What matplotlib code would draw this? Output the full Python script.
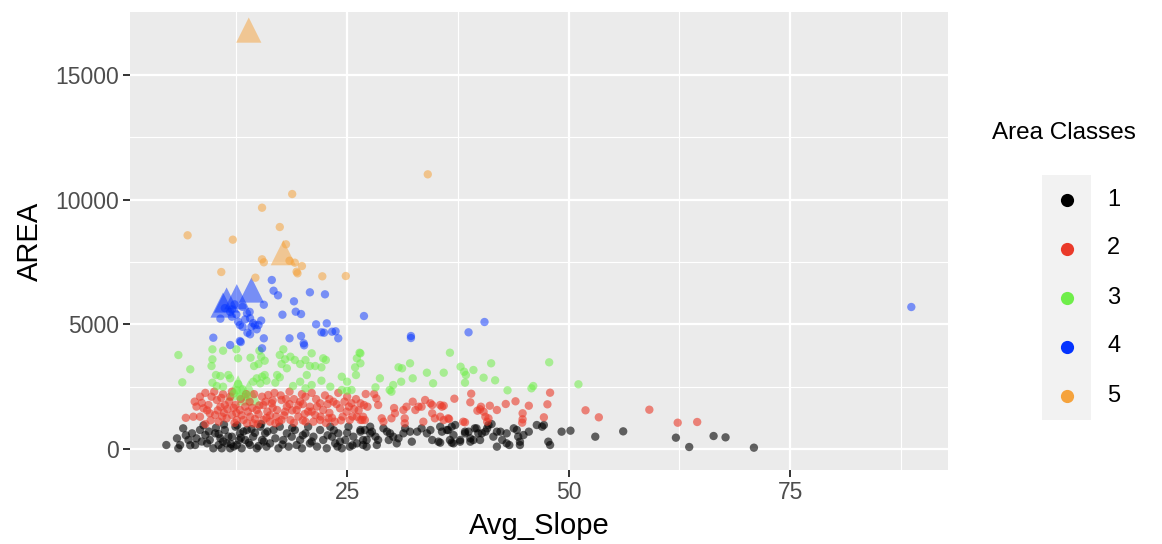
import matplotlib
matplotlib.use("Agg")
import matplotlib.pyplot as plt
from matplotlib.lines import Line2D

plt.rcParams['font.family'] = ['Liberation Sans', 'DejaVu Sans']

# === Данные: (Avg_Slope, AREA) по классам площади ===
class_labels = ["1", "2", "3", "4", "5"]
class_colors = ["#000000", "#EA3A2A", "#6FEE4A", "#0433FF", "#F5A33D"]
class_alpha = [0.6, 0.6, 0.55, 0.5, 0.55]

points_c1 = [
    (35.5, 894), (35.7, 695), (36.25, 762), (36.8, 894), (37.2, 962), (36.6, 361), (37.0, 561),
    (35.5, 254), (36.8, 254), (37.75, 294), (38.3, 695), (38.9, 428), (39.25, 361), (39.6, 829),
    (39.8, 628), (40.0, 361), (40.6, 695), (40.8, 829), (41.3, 1000), (41.5, 494), (41.9, 94),
    (42.3, 695), (42.5, 361), (43.0, 628), (43.3, 160), (43.8, 829), (44.15, 762), (44.3, 494),
    (44.5, 160), (44.9, 561), (45.5, 695), (46.4, 962), (47.0, 894), (47.2, 962), (47.7, 294),
    (47.9, 160), (49.2, 695), (50.2, 735), (53.0, 494), (56.15, 708), (62.1, 454), (63.6, 80),
    (66.35, 521), (67.7, 468), (70.9, 53),
    (26.5, 695), (27.0, 762), (27.6, 894), (27.8, 695), (28.2, 494), (28.5, 361), (27.2, 361),
    (26.8, 160), (28.35, 160), (29.1, 829), (29.5, 695), (29.85, 628), (29.7, 361), (30.2, 494),
    (30.6, 227), (30.8, 428), (31.35, 628), (31.55, 829), (32.1, 695), (32.3, 294), (32.9, 695),
    (33.4, 829), (34.0, 628), (34.4, 762), (34.6, 361), (35.3, 294), (36.4, 762), (37.0, 227),
    (37.75, 361), (38.3, 628), (38.7, 695), (38.9, 294), (39.4, 829), (40.2, 628), (40.95, 962),
    (41.9, 695), (43.0, 227), (44.5, 294),
    (4.6, 160), (5.8, 428), (6.15, 160), (6.5, 829), (5.95, 28), (7.1, 361), (7.5, 628),
    (7.85, 160), (8.0, 428), (8.4, 762), (8.8, 950), (9.0, 561), (9.2, 227), (9.5, 361),
    (9.9, 28), (10.1, 628), (10.5, 160), (10.7, 428), (10.85, 28), (11.2, 762), (11.4, 227),
    (11.8, 28), (12.0, 494), (12.4, 894), (12.55, 160), (12.9, 628), (13.1, 28), (13.5, 361),
    (13.7, 762), (14.05, 160), (14.4, 494), (14.8, 28), (15.2, 894), (15.4, 361), (15.75, 628),
    (15.9, 94), (16.3, 227), (16.7, 762), (16.9, 428), (17.25, 28), (17.4, 894), (17.8, 361),
    (18.2, 628), (18.4, 94), (18.75, 494), (19.1, 762), (19.3, 160), (19.7, 361), (19.9, 28),
    (20.3, 628), (20.6, 894), (20.8, 227), (21.2, 494), (21.6, 94), (21.95, 762), (22.3, 361),
    (22.7, 28), (23.1, 894), (23.3, 494), (23.65, 227), (24.0, 628), (24.4, 28), (24.8, 361),
    (25.15, 894), (25.3, 94), (25.7, 494), (26.1, 227), (26.5, 762), (26.8, 361), (27.2, 94),
    (27.6, 628),
    (10.5, 600), (11.0, 300), (11.6, 500), (12.2, 100), (12.8, 350), (13.3, 700), (13.9, 250),
    (14.6, 650), (15.0, 120), (10.2, 850), (11.9, 200), (13.0, 450), (14.2, 800), (15.6, 300),
    (23.5, 750), (24.2, 300), (25.0, 650), (25.6, 150), (22.8, 550), (23.9, 100), (16.0, 700),
    (17.7, 180), (18.8, 850), (20.0, 550), (21.0, 300), (9.4, 700), (8.6, 300), (7.3, 150),
    (6.8, 550), (12.6, 950), (15.3, 1000), (11.1, 980),
]

points_c2 = [
    (37.1, 2017), (39.0, 2218), (38.9, 1873), (35.9, 1736), (40.1, 1696), (39.7, 1536),
    (40.4, 1496), (41.1, 1736), (41.9, 1564), (42.9, 1805), (44.0, 1913), (44.8, 1432),
    (45.5, 1736), (44.8, 1191), (44.75, 1055), (47.6, 1792), (47.9, 2258), (47.2, 1271),
    (40.95, 1231), (38.3, 1071), (36.5, 1203), (51.9, 1552), (53.4, 1271), (59.1, 1576),
    (62.3, 1055), (64.5, 1083),
    (27.1, 2205), (28.05, 2205), (28.3, 2033), (28.5, 1764), (27.3, 1696), (30.3, 1644),
    (31.7, 1696), (32.4, 1897), (33.05, 1696), (33.8, 1965), (34.6, 1764), (35.5, 1764),
    (26.5, 1833), (26.9, 1764), (26.8, 1295), (26.5, 1163), (27.0, 1163), (28.9, 1231),
    (29.1, 1095), (30.0, 1231), (30.4, 1432), (31.35, 1564), (31.5, 1231), (31.5, 1031),
    (32.7, 1564), (33.4, 1696), (33.6, 1095), (34.4, 1833), (34.6, 1432), (34.9, 1231),
    (35.7, 1696), (35.5, 1295), (35.9, 1163), (36.4, 1231), (38.1, 1095), (40.0, 1592),
    (40.6, 1295), (40.8, 1095),
    (8.4, 2097), (7.65, 1295), (8.4, 1295), (8.8, 1632), (9.35, 1764), (9.7, 2097), (10.3, 1965),
    (10.7, 1696), (11.2, 1764), (11.8, 2097), (12.4, 1764), (12.9, 1564), (12.0, 1363),
    (11.4, 1231), (10.9, 1295), (10.1, 1363), (9.5, 1432), (12.55, 1163), (13.3, 1163),
    (14.05, 1295), (14.8, 1564), (15.4, 2097), (15.55, 1764), (16.1, 2165), (16.5, 1833),
    (17.1, 1564), (17.6, 1965), (18.0, 1496), (18.6, 1163), (19.3, 1564), (19.7, 1897),
    (20.3, 2097), (20.8, 1696), (21.4, 1363), (21.95, 1833), (22.3, 1564), (22.9, 1231),
    (23.45, 1897), (24.2, 1632), (24.95, 1496), (25.5, 1833), (26.1, 1295), (26.7, 1163),
    (15.55, 1163), (16.3, 1095), (14.4, 1031), (13.7, 1031), (16.9, 1031), (17.6, 1163),
    (20.3, 1095), (21.2, 1095), (21.95, 1163), (23.6, 1095), (25.3, 1163),
    (9.0, 2250), (10.0, 2300), (11.0, 2200), (12.0, 2300), (13.0, 2000), (14.0, 1900),
    (14.5, 2200), (16.8, 2250), (17.5, 2150), (18.5, 2300), (19.0, 2000), (20.0, 1800),
    (21.0, 2250), (22.5, 2150), (23.0, 2000), (24.0, 2250), (25.0, 2100), (26.0, 2000),
    (11.5, 1600), (13.5, 1700), (15.0, 1400), (16.0, 1500), (17.0, 1300), (18.5, 1800),
    (19.5, 1300), (21.0, 1500), (23.0, 1450), (24.5, 1300), (25.8, 1600), (10.5, 1100),
    (9.0, 1000), (8.0, 1700), (7.8, 1900), (6.8, 1250), (12.5, 1450), (14.3, 1650),
    (16.3, 1350), (18.2, 1700), (20.2, 1400), (22.0, 1300), (23.8, 1800), (19.0, 1050),
    (15.8, 1900),
    (9.6, 1150), (10.4, 1550), (11.1, 1450), (11.7, 1900), (12.3, 1050), (13.1, 1350),
    (13.8, 1500), (14.6, 1200), (15.1, 1750), (15.9, 1250), (16.6, 1650), (17.3, 1100),
    (17.9, 1350), (18.8, 1550), (19.5, 1750), (20.0, 1150), (20.6, 1500), (21.6, 1700),
    (22.6, 1050), (23.3, 1250), (24.3, 1150), (24.7, 1900), (25.6, 1300), (26.3, 1550),
    (8.6, 1850), (9.2, 1550), (12.2, 1650), (13.6, 2200), (16.6, 1950), (18.1, 2000),
    (19.9, 2200), (22.8, 1800), (10.8, 2050), (14.9, 1000), (21.5, 2000), (25.2, 1700),
]

points_c3 = [
    (5.96, 3769), (7.3, 3196), (6.4, 2675), (9.8, 3998), (11.0, 3942), (12.5, 3998), (9.8, 3597),
    (9.7, 3328), (12.7, 3637), (14.1, 3661), (15.1, 3942), (15.3, 3701), (14.5, 3328),
    (15.0, 3408), (15.7, 3541), (17.8, 3998), (17.4, 3769), (18.0, 3597), (18.6, 3701),
    (19.1, 3569), (19.7, 3408), (20.3, 3569), (20.8, 3328), (17.6, 3408), (18.2, 3236),
    (21.0, 3837), (21.4, 3328), (22.1, 3276), (22.6, 3569), (22.3, 3637), (26.4, 3862),
    (26.1, 3637), (25.9, 3276), (26.0, 2967), (10.2, 2967), (10.7, 2927), (11.6, 2967),
    (11.8, 2835), (9.8, 2659), (10.3, 2526), (11.0, 2498), (12.7, 2606), (12.55, 2366),
    (13.2, 2394), (12.2, 2234), (12.9, 2097), (13.7, 2165), (14.4, 2699), (14.8, 2835),
    (15.4, 2899), (15.7, 2967), (15.2, 2635), (15.9, 2739), (17.1, 2967), (17.4, 2875),
    (16.9, 2659), (18.9, 2526), (19.7, 2699), (20.45, 2967), (21.0, 2566), (20.3, 2434),
    (22.1, 2739), (23.1, 2498), (24.4, 2899), (25.0, 2699), (24.4, 2366), (25.0, 2338),
    (25.5, 2366), (28.2, 2474), (28.7, 2835), (29.8, 2366), (30.2, 2566), (30.8, 3276),
    (31.2, 3236), (32.1, 3437), (32.4, 2835), (34.0, 3060), (34.7, 2635), (35.9, 3060),
    (30.0, 2298), (36.6, 3862), (26.5, 3837), (26.5, 3437), (31.1, 2699), (37.8, 3300),
    (38.2, 3100), (38.4, 2967), (39.25, 3168), (38.3, 2659), (40.4, 2859), (41.25, 3437),
    (41.7, 2755), (43.1, 2354), (45.8, 2434), (46.0, 2526), (47.8, 3477), (51.1, 2595),
]

points_c4 = [
    (16.5, 6777), (16.7, 6348), (17.2, 6163), (20.8, 6284), (22.5, 6203), (19.0, 5922),
    (15.6, 5786), (17.7, 5386), (19.2, 5506), (19.8, 5413), (26.9, 5333), (21.5, 5000),
    (22.7, 5040), (22.1, 4680), (22.4, 4664), (23.3, 4704), (23.7, 4720), (24.0, 4439),
    (10.7, 5226), (12.0, 5306), (12.7, 5105), (12.9, 4972), (13.7, 5441), (14.05, 5241),
    (14.6, 4972), (14.2, 4905), (15.0, 4972), (13.75, 4664), (14.05, 4600), (9.9, 4463),
    (12.9, 4330), (15.6, 4439), (18.5, 4439), (19.8, 4531), (11.8, 4170), (13.0, 4290),
    (20.1, 4238), (20.15, 4158), (15.4, 4038), (32.2, 4531), (32.2, 4451), (40.5, 5093),
    (38.7, 4680), (88.66, 5694), (12.0, 5600), (12.5, 5400), (13.2, 5700), (13.5, 5200),
    (14.4, 5050), (14.8, 4800), (15.3, 5150), (13.2, 4900), (12.3, 5800), (11.8, 5500),
    (11.2, 5650), (14.0, 5500),
]

points_c5 = [
    (34.1, 11015), (18.8, 10225), (15.4, 9676), (17.4, 8902), (7.0, 8570), (12.1, 8394),
    (18.1, 8208), (15.4, 7607), (15.6, 7487), (18.5, 7551), (19.1, 7471), (19.9, 7338),
    (19.3, 7110), (19.4, 7045), (10.8, 7098), (14.65, 6870), (22.2, 6925), (24.85, 6937),
]

# треугольники (выделенные объекты) и их классы
tri_points = [(13.9, 16800), (17.8, 7872), (11.4, 5975), (12.55, 6107), (11.0, 5774),
              (14.2, 6376), (12.7, 2450), (13.9, 2250)]
tri_class = [5, 5, 4, 4, 4, 4, 3, 3]

all_classes = [points_c1, points_c2, points_c3, points_c4, points_c5]

# === Рисунок ===
fig = plt.figure(figsize=(11.62, 5.44), dpi=100)
ax = fig.add_axes([130 / 1162, 74 / 544, 818 / 1162, 458 / 544])
ax.set_facecolor("#EBEBEB")
for s in ax.spines.values():
    s.set_visible(False)

# треугольники рисуем под точками
for (tx, ty), c in zip(tri_points, tri_class):
    ax.scatter([tx], [ty], s=330, marker="^", color=class_colors[c - 1], alpha=0.5,
               edgecolors="none", zorder=2)

for pts, col, a in zip(all_classes, class_colors, class_alpha):
    xs = [p[0] for p in pts]
    ys = [p[1] for p in pts]
    ax.scatter(xs, ys, s=36, color=col, alpha=a, edgecolors="none", zorder=3)

ax.set_xlim(0.5, 92.8)
ax.set_ylim(-842, 17525)
ax.set_xticks([25, 50, 75])
ax.set_yticks([0, 5000, 10000, 15000])
ax.set_xticks([12.5, 37.5, 62.5, 87.5], minor=True)
ax.set_yticks([2500, 7500, 12500], minor=True)
ax.grid(True, which="major", color="white", linewidth=1.6, zorder=0)
ax.grid(True, which="minor", color="white", linewidth=0.8, zorder=0)
ax.set_axisbelow(True)
ax.tick_params(which="major", length=5, width=1.4, color="#333333",
               labelsize=16.5, labelcolor="#4D4D4D", pad=3)
ax.tick_params(which="minor", length=0)

ax.set_xlabel("Avg_Slope", fontsize=21, labelpad=6)
ax.set_ylabel("AREA", fontsize=21, labelpad=8)

# === Легенда ===
fig.text(992 / 1162, (544 - 133) / 544, "Area Classes", fontsize=17.5, ha="left", va="center")
lax = fig.add_axes([1042 / 1162, (544 - 420) / 544, 49 / 1162, 245 / 544])
lax.set_facecolor("#F2F2F2")
for s in lax.spines.values():
    s.set_visible(False)
lax.set_xticks([])
lax.set_yticks([])
lax.set_xlim(0, 1)
lax.set_ylim(5, 0)
for i, (lab, col) in enumerate(zip(class_labels, class_colors)):
    lax.add_line(Line2D([0.5], [i + 0.5], marker="o", markersize=9.5, color=col,
                        markeredgewidth=0, linestyle="none"))
    lax.text(1.33, i + 0.5, lab, fontsize=17, ha="left", va="center", clip_on=False)

fig.savefig("out.png", dpi=100)
